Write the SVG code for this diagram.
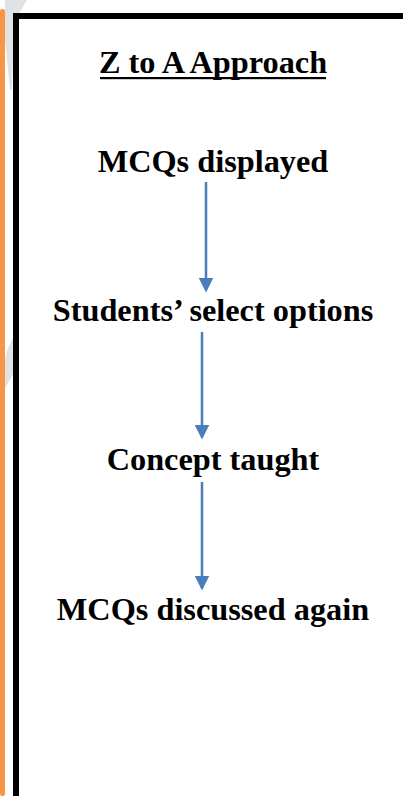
<svg xmlns="http://www.w3.org/2000/svg" width="403" height="796" viewBox="0 0 403 796">
<style>
.lbl{font-family:"Liberation Serif","Times New Roman",serif;font-weight:bold;font-size:32.3px;fill:#000;text-anchor:middle}
.conn{stroke:#4a7ebb;stroke-width:2.5;fill:none}
</style>
<defs>
<marker id="ah" markerWidth="6" markerHeight="6" refX="5" refY="3" orient="auto" markerUnits="strokeWidth"><path d="M0,0 L6,3 L0,6 Z" fill="#4a7ebb"/></marker>
</defs>
<rect width="403" height="796" fill="#fff"/>
<g id="background">
<polygon points="5,0 27,0 14,22 12,90 10,90 5,40" fill="#dfe3e6"/>
<path d="M13,338 Q5,352 5,362 L5,388 Q10,380 13,374 Z" fill="#dfe3e6"/>
<rect x="0" y="9" width="5" height="787" rx="2" fill="#f79646"/>
<path d="M16,796 L16,16 L403,16" fill="none" stroke="#000" stroke-width="6"/>
</g>
<g id="title"><text class="lbl" x="213" y="73">Z to A Approach</text><rect x="100" y="77" width="226" height="2.2" fill="#000"/></g>
<g id="n1"><text class="lbl" x="213" y="172">MCQs displayed</text></g>
<g id="n2"><text class="lbl" x="213" y="321">Students’ select options</text></g>
<g id="n3"><text class="lbl" x="213" y="470">Concept taught</text></g>
<g id="n4"><text class="lbl" x="213" y="620">MCQs discussed again</text></g>
<g id="connectors">
<line class="conn" x1="206" y1="182" x2="206" y2="290" marker-end="url(#ah)"/>
<line class="conn" x1="202" y1="332" x2="202" y2="437" marker-end="url(#ah)"/>
<line class="conn" x1="202" y1="482" x2="202" y2="588" marker-end="url(#ah)"/>
</g>
</svg>
